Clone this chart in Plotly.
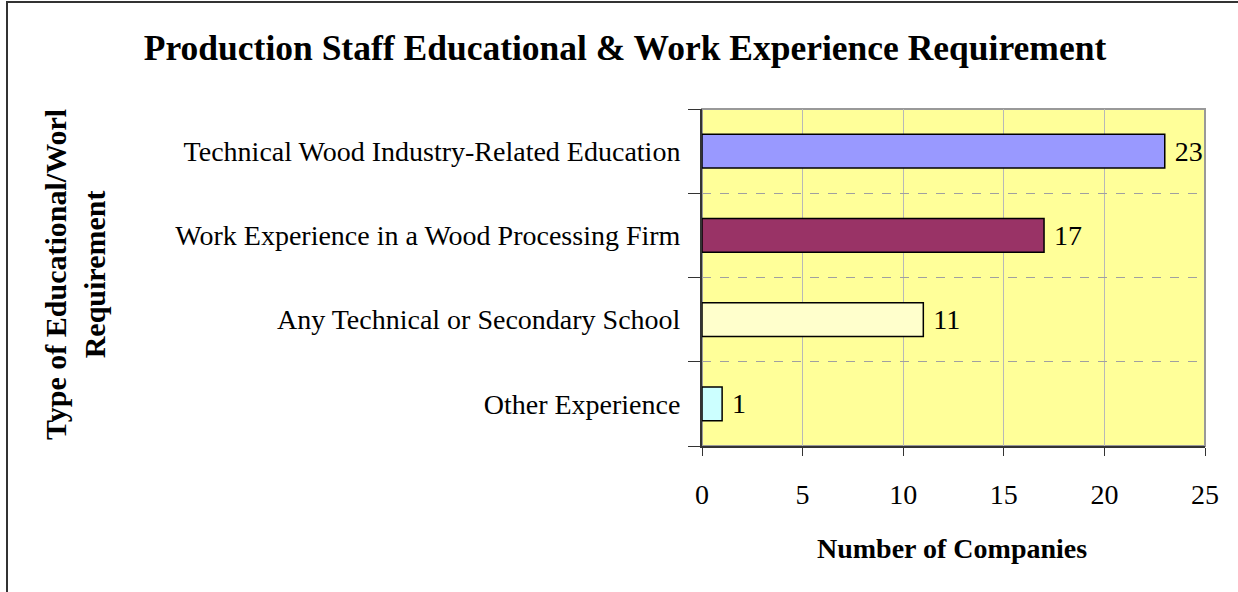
import plotly.graph_objects as go

categories = ["Technical Wood Industry-Related Education",
              "Work Experience in a Wood Processing Firm",
              "Any Technical or Secondary School",
              "Other Experience"]
companies = [23, 17, 11, 1]
bar_colors = ["#9999FF", "#993366", "#FFFFCC", "#CCFFFF"]
x_ticks = [0, 5, 10, 15, 20, 25]

serif = "Liberation Serif, Times New Roman, serif"

fig = go.Figure()
fig.add_trace(go.Bar(
    y=categories, x=companies, orientation="h",
    marker=dict(color=bar_colors, line=dict(color="black", width=1.5)),
    width=0.4,
    text=["\u00a0" + str(v) for v in companies], textposition="outside",
    textfont=dict(family=serif, size=28, color="black"),
    cliponaxis=False, showlegend=False,
))

fig.update_layout(
    width=1238, height=592,
    margin=dict(l=702, r=33, t=109, b=146),
    paper_bgcolor="white", plot_bgcolor="#FFFF99",
    font=dict(family=serif, size=28, color="black"),
    title=dict(text="<b>Production Staff Educational & Work Experience Requirement</b>",
               x=(625 - 0) / 1238, xanchor="center", y=1 - 48 / 592, yanchor="middle",
               font=dict(family=serif, size=35.5, color="black")),
)

fig.update_xaxes(
    range=[0, 25], tickvals=x_ticks, showgrid=True, gridcolor="#B8B8B8", gridwidth=1,
    showline=True, linecolor="#333333", linewidth=2,
    ticks="outside", ticklen=8, tickcolor="#333333",
    tickfont=dict(family=serif, size=28), zeroline=False, ticklabelstandoff=14,
)
fig.update_yaxes(
    categoryorder="array", categoryarray=categories[::-1],
    tickson="boundaries", ticks="outside", ticklen=12, tickcolor="#333333",
    showgrid=True, gridcolor="#A0A0A0", griddash="dash", gridwidth=1,
    showline=True, linecolor="#333333", linewidth=2,
    tickfont=dict(family=serif, size=28), ticklabelstandoff=14,
)

# plot area border (top/right grey)
fig.add_shape(type="rect", xref="paper", yref="paper", x0=0, x1=1, y0=0, y1=1,
              line=dict(color="#999999", width=2), layer="below")
# outer chart frame
fig.add_shape(type="rect", xref="paper", yref="paper",
              x0=(7 - 702) / 503, x1=(1250 - 702) / 503,
              y0=(446 - 620) / 337, y1=(446 - 2) / 337,
              line=dict(color="#333333", width=2))

fig.add_annotation(
    text="<b>Type of Educational/Worl<br>Requirement</b>",
    xref="paper", yref="paper", x=(75 - 702) / 503, y=(446 - 275) / 337,
    textangle=-90, showarrow=False, font=dict(family=serif, size=30),
    xanchor="center", yanchor="middle",
)
fig.add_annotation(
    text="<b>Number of Companies</b>",
    xref="paper", yref="paper", x=(952 - 702) / 503, y=(446 - 548) / 337,
    showarrow=False, font=dict(family=serif, size=28),
    xanchor="center", yanchor="middle",
)

fig.write_html("out.html", config={"displayModeBar": False},
               post_script="document.body.style.margin='0';")
